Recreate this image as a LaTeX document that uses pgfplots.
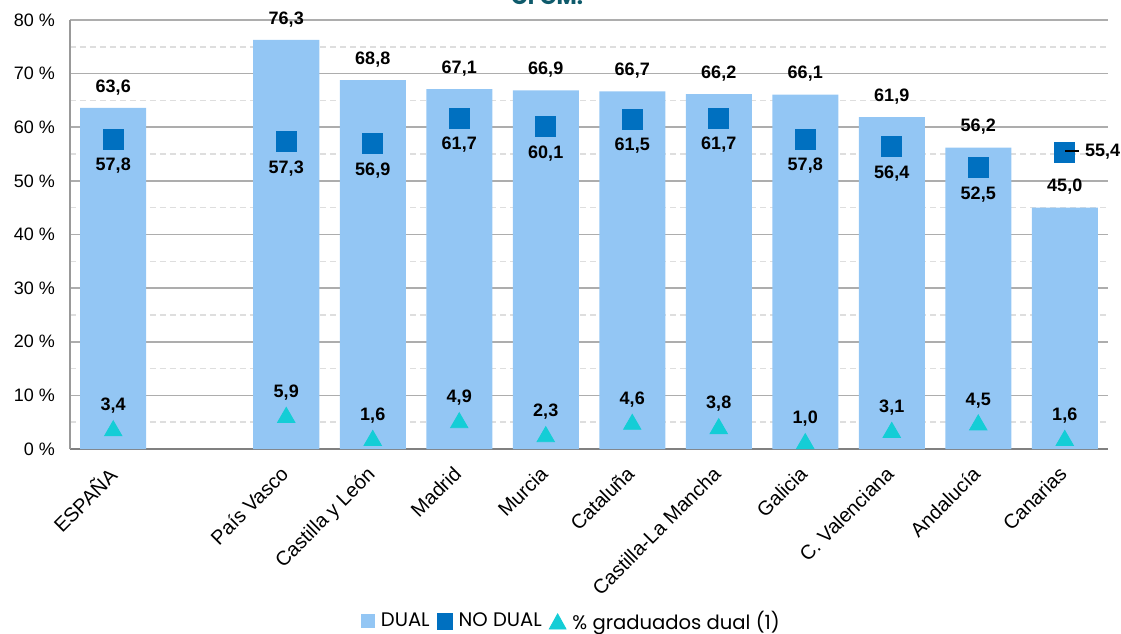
\documentclass[border=0pt]{standalone}
\usepackage{pgfplots}
\pgfplotsset{compat=1.18}
\usepackage{fontspec}
\setmainfont{Liberation Sans}
\newfontfamily\legendfont{Poppins}
\definecolor{barblue}{HTML}{93C6F4}
\definecolor{ndblue}{HTML}{0070C0}
\definecolor{tri}{HTML}{14CDD6}
\definecolor{titlecol}{HTML}{0E5A6B}
\begin{document}
\begin{tikzpicture}
\path[use as bounding box] (0,0) rectangle (560.5pt,316.5pt);
\node[anchor=base, font=\legendfont\bfseries\fontsize{11}{13}\selectfont, text=titlecol] at (273.5pt,314.3pt) {CFGM.};
\begin{axis}[
  at={(35pt,92pt)}, anchor=south west,
  scale only axis, width=519pt, height=214.5pt,
  xmin=-0.5, xmax=11.5, ymin=0, ymax=80,
  clip=false,
  axis x line*=bottom, axis y line*=left,
  x axis line style={draw=black!50, line width=1pt},
  y axis line style={draw=black!40, line width=1pt},
  xtick={0,2,3,4,5,6,7,8,9,10,11},
  xticklabels={ESPAÑA,País Vasco,Castilla y León,Madrid,Murcia,Cataluña,Castilla-La Mancha,Galicia,C. Valenciana,Andalucía,Canarias},
  x tick label style={rotate=45, anchor=north east, font=\fontsize{10}{12}\selectfont, inner sep=1pt, xshift=-7pt, yshift=-2pt},
  major tick length=0pt, minor tick length=0pt,
  ytick={0,10,...,80}, minor ytick={5,15,...,75},
  yticklabels={0 \%,10 \%,20 \%,30 \%,40 \%,50 \%,60 \%,70 \%,80 \%},
  y tick label style={font=\fontsize{9}{10}\selectfont, xshift=-4pt},
  ymajorgrids, yminorgrids,
  major grid style={draw=black!32, line width=0.8pt},
  minor grid style={draw=black!13, line width=0.7pt, dash pattern=on 3pt off 2pt},
  legend columns=-1,
  legend style={at={(0.484,-0.402)}, anchor=center, draw=none, fill=none,
    font=\legendfont\fontsize{9.8}{11}\selectfont, inner sep=0pt,
    /tikz/every odd column/.append style={column sep=1pt},
    /tikz/every even column/.append style={column sep=1.5pt}},
  /pgf/number format/.cd, use comma, fixed, fixed zerofill, precision=1, assume math mode=true,
]
\addplot[ybar, bar width=33pt, fill=barblue, draw=none,
  nodes near coords, point meta=y,
  every node near coord/.append style={text=black, font=\bfseries\fontsize{9}{10}\selectfont, anchor=south, yshift=3pt},
  legend image code/.code={\fill[barblue] (0pt,-3.5pt) rectangle (7pt,3.5pt);}]
  coordinates {(0,63.6) (2,76.3) (3,68.8) (4,67.1) (5,66.9) (6,66.7) (7,66.2) (8,66.1) (9,61.9) (10,56.2) (11,45.0)};
\addlegendentry{DUAL}
\addplot[ndblue, only marks, mark=square*, mark size=5pt, mark options={fill=ndblue, draw=ndblue},
  nodes near coords, point meta=y,
  every node near coord/.append style={text=black, font=\bfseries\fontsize{9}{10}\selectfont, anchor=north, yshift=-6pt},
  legend image code/.code={\fill[ndblue] (0pt,-3.8pt) rectangle (7.6pt,3.8pt);}]
  coordinates {(0,57.8) (2,57.3) (3,56.9) (4,61.7) (5,60.1) (6,61.5) (7,61.7) (8,57.8) (9,56.4) (10,52.5)};
\addlegendentry{NO DUAL}
\addplot[tri, only marks, mark=triangle*, mark size=5pt, mark options={fill=tri, draw=tri},
  nodes near coords, point meta=y,
  every node near coord/.append style={text=black, font=\bfseries\fontsize{9}{10}\selectfont, anchor=south, yshift=5pt},
  legend image code/.code={\fill[tri] (0pt,-3.8pt) -- (8.4pt,-3.8pt) -- (4.2pt,3.8pt) -- cycle;}]
  coordinates {(0,3.4) (2,5.9) (3,1.6) (4,4.9) (5,2.3) (6,4.6) (7,3.8) (8,1.0) (9,3.1) (10,4.5) (11,1.6)};
\addlegendentry{\% graduados dual (1)}
\addplot[ndblue, forget plot, only marks, mark=square*, mark size=5pt, mark options={fill=ndblue, draw=ndblue},
  nodes near coords={\rule[0.5ex]{7pt}{0.9pt}\hspace{3pt}\pgfmathprintnumber{\pgfplotspointmeta}}, point meta=y,
  every node near coord/.append style={text=black, font=\bfseries\fontsize{9}{10}\selectfont, anchor=west, inner xsep=0pt}]
  coordinates {(11,55.4)};
\end{axis}
\end{tikzpicture}
\end{document}
